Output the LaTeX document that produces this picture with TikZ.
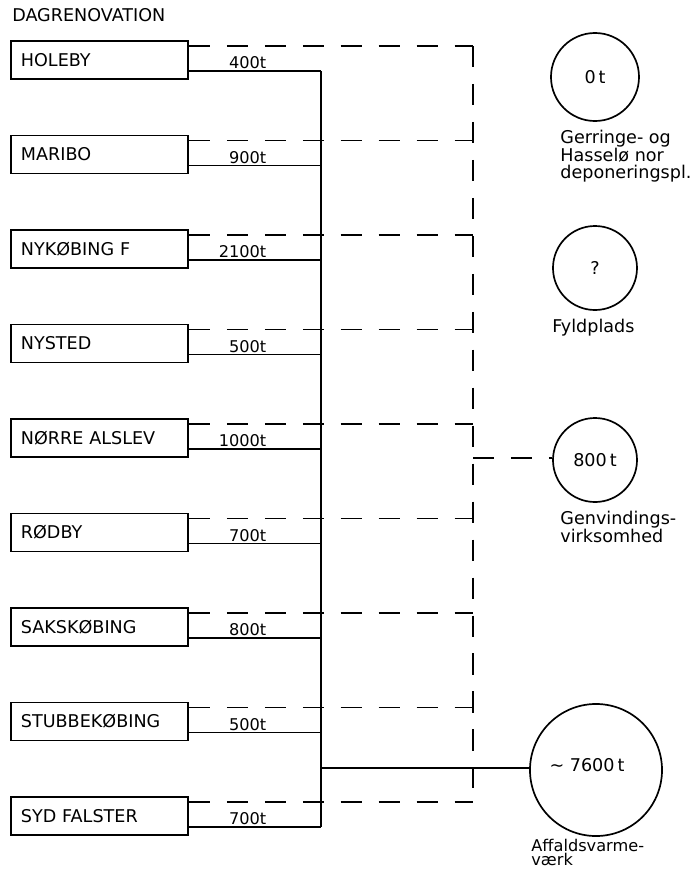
\documentclass[tikz,border=0pt]{standalone}
\usepackage{fontspec}
\setmainfont{DejaVu Sans}
\usepackage{tikz}
\usetikzlibrary{calc}

\tikzset{
	every node/.style={font=\fontsize{12.5}{12}\selectfont},
	town/.style={draw, line width=1.3pt, anchor=west, inner xsep=0.25cm,
		text width=3.925cm, minimum height=0.95cm, align=left},
	amount/.style={anchor=east, inner sep=1pt, font=\fontsize{11.5}{12}\selectfont},
	plant/.style={draw, circle, line width=1.2pt, inner sep=0pt},
	lbl/.style={anchor=north west, align=left, inner sep=0pt},
	solidline/.style={line width=1.2pt},
	dashline/.style={line width=1.2pt, dash pattern=on 15pt off 12pt},
}

\begin{document}
\begin{tikzpicture}[x=0.025cm, y=-0.025cm]
	\useasboundingbox (0, 0) rectangle (694, 870);
	\node[anchor=west, inner sep=0pt] (title) at (12, 15) {DAGRENOVATION};
	% municipalities
	\foreach \name/\amt [count=\i] in {HOLEBY/400, MARIBO/900, NYKØBING F/2100,
		NYSTED/500, NØRRE ALSLEV/1000, RØDBY/700, SAKSKØBING/800,
		STUBBEKØBING/500, SYD FALSTER/700} {
		\pgfmathsetmacro{\yy}{60 + 94.5*(\i - 1)}
		\node[town] (t\i) at (10, \yy) {\name};
		\coordinate (s\i) at (321, \yy + 11);
		\coordinate (d\i) at (473, \yy - 14);
		\node[amount] (a\i) at (268, \yy + 3) {\amt t};
		\draw[solidline] (t\i.east |- s\i) -- (s\i);
		\draw[dashline] (t\i.east |- d\i) -- (d\i);
	}
	% plants
	\node[plant, minimum size=2.2cm] (c0) at (595, 77) {0\,t};
	\node[plant, minimum size=2.1cm] (cq) at (595, 268) {?};
	\node[plant, minimum size=2.1cm] (cg) at (595, 460) {800\,t};
	\node[plant, minimum size=3.3cm] (cv) at (596, 770) {};
	\node (v) at (587, 765) {\textasciitilde\ 7600\,t};
	\node[lbl] (l0) at ($(c0.west |- c0.south) + (10, 8)$) {Gerringe- og\\Hasselø nor\\deponeringspl.};
	\node[lbl] (lq) at ($(cq.west |- cq.south) + (0, 8)$) {Fyldplads};
	\node[lbl] (lg) at ($(cg.west |- cg.south) + (8, 8)$) {Genvindings-\\virksomhed};
	\node[lbl, font=\fontsize{11.5}{10}\selectfont] (lv) at ($(cv.west |- cv.south) + (2, 2)$) {Affaldsvarme-\\værk};
	% collecting lines
	\draw[solidline] (s1) -- (s9);
	\coordinate (j) at (321, 768);
	\draw[solidline] (j) -- (j -| cv.west);
	\draw[dashline] (d1) -- (d9);
	\coordinate (k) at (473, 458);
	\draw[dashline] (k) -- (k -| cg.west);
\end{tikzpicture}
\end{document}
